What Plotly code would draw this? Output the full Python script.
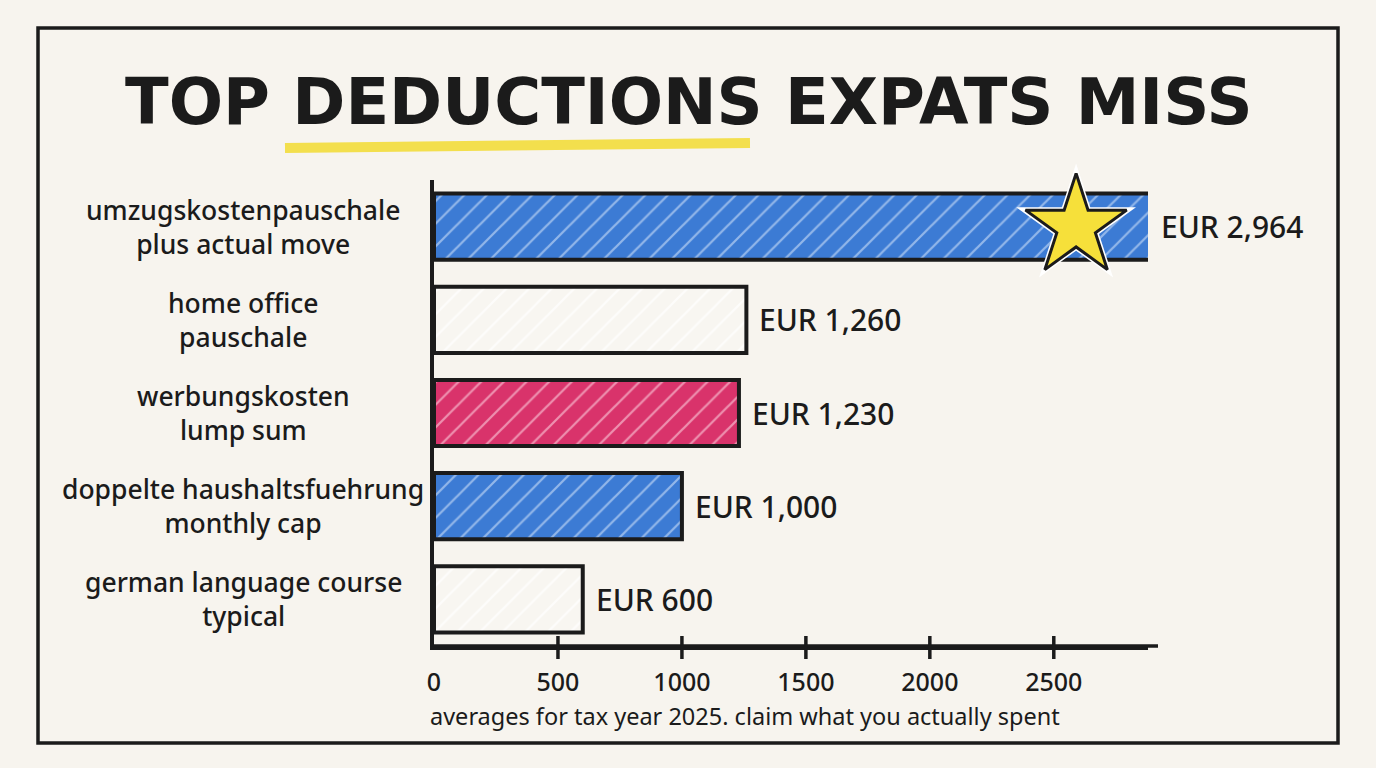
import plotly.graph_objects as go

# ---- data ----
categories = [
    "umzugskostenpauschale<br>plus actual move",
    "home office<br>pauschale",
    "werbungskosten<br>lump sum",
    "doppelte haushaltsfuehrung<br>monthly cap",
    "german language course<br>typical",
]
values = [2964, 1260, 1230, 1000, 600]
value_labels = ["EUR 2,964", "EUR 1,260", "EUR 1,230", "EUR 1,000", "EUR 600"]
tick_values = [0, 500, 1000, 1500, 2000, 2500]
title_text = "TOP DEDUCTIONS EXPATS MISS"
caption_text = "averages for tax year 2025. claim what you actually spent"

# ---- styles ----
bg_colors = ["#3c7bd4", "#f8f6f1", "#d9336b", "#3c7bd4", "#f8f6f1"]
fg_colors = ["#b7d0f2", "#ffffff", "#f6b8cc", "#b7d0f2", "#ffffff"]
INK = "#1b1b1b"
PAPER = "#f7f4ee"
FONT = "Noto Sans"
TITLE_FONT = "DejaVu Sans"

W, H = 1376, 768
L, R, T, B = 434, 1148, 180, 646  # plot area in px
XMAX = 2880
N = len(categories)

def px2x(px):
    return (px - L) / (R - L)

def py2y(py):
    return (B - py) / (B - T)

fig = go.Figure()

for c, v, bgc, fgc in zip(categories, values, bg_colors, fg_colors):
    fig.add_trace(go.Bar(
        y=[c], x=[v], orientation="h", width=0.71,
        marker=dict(
            color=bgc,
            line=dict(color=INK, width=4),
            pattern=dict(shape="/", fgcolor=fgc, fgopacity=0.7,
                         size=16, solidity=0.14, fillmode="overlay"),
        ),
        hoverinfo="skip", showlegend=False,
    ))

# star highlight on the top bar
star_x = XMAX - 290
fig.add_trace(go.Scatter(
    x=[star_x], y=[categories[0]], mode="markers",
    marker=dict(symbol="star", size=90, color="#ffffff", line=dict(width=0)),
    hoverinfo="skip", showlegend=False, cliponaxis=False,
))
fig.add_trace(go.Scatter(
    x=[star_x], y=[categories[0]], mode="markers",
    marker=dict(symbol="star", size=76, color="#f6e03a", line=dict(color=INK, width=3)),
    hoverinfo="skip", showlegend=False, cliponaxis=False,
))

annotations = []
for c, v, t in zip(categories, values, value_labels):
    annotations.append(dict(
        x=min(v, XMAX), y=c, xref="x", yref="y", text=t, showarrow=False,
        xanchor="left", xshift=11,
        font=dict(family=FONT, size=30, color=INK, weight=500),
    ))
for c in categories:
    annotations.append(dict(
        x=px2x(243), y=c, xref="paper", yref="y", text=c, showarrow=False,
        xanchor="center", align="center",
        font=dict(family=FONT, size=26.5, color=INK, weight=500),
    ))
annotations.append(dict(
    x=px2x(W / 2), y=py2y(102), xref="paper", yref="paper", text=title_text,
    showarrow=False, xanchor="center", yanchor="middle",
    font=dict(family=TITLE_FONT, size=64, color=INK, weight=700),
))
annotations.append(dict(
    x=px2x(428), y=py2y(716), xref="paper", yref="paper", text=caption_text,
    showarrow=False, xanchor="left", yanchor="middle",
    font=dict(family=FONT, size=23.5, color=INK),
))

shapes = [
    dict(type="rect", xref="paper", yref="paper",
         x0=px2x(38), x1=px2x(1338), y0=py2y(743), y1=py2y(28),
         line=dict(color=INK, width=3.5), layer="below"),
    dict(type="line", xref="paper", yref="paper",
         x0=px2x(285), x1=px2x(750), y0=py2y(148), y1=py2y(143),
         line=dict(color="#f3dd3c", width=10), opacity=0.9, layer="below"),
    dict(type="line", xref="paper", yref="paper",
         x0=0, x1=px2x(1158), y0=0, y1=0,
         line=dict(color=INK, width=3.5)),
]
# crossing tick marks
for t in tick_values[1:]:
    shapes.append(dict(type="line", xref="x", yref="paper",
                       x0=t, x1=t, y0=py2y(659), y1=py2y(636),
                       line=dict(color=INK, width=3.5)))

fig.update_layout(
    width=W, height=H,
    margin=dict(l=L, r=W - R, t=T, b=H - B, pad=0),
    paper_bgcolor=PAPER, plot_bgcolor=PAPER,
    barmode="overlay",
    annotations=annotations,
    shapes=shapes,
    xaxis=dict(
        range=[0, XMAX], tickvals=tick_values, ticktext=[str(t) for t in tick_values],
        showgrid=False, zeroline=False,
        showline=True, linecolor=INK, linewidth=3.5,
        ticks="outside", ticklen=11, tickwidth=0.01, tickcolor=PAPER,
        tickfont=dict(family=FONT, size=25, color=INK, weight=500),
        fixedrange=True,
    ),
    yaxis=dict(
        type="category", categoryorder="array", categoryarray=categories,
        range=[N - 0.5, -0.5], autorange=False,
        showticklabels=False, showgrid=False, zeroline=False,
        showline=True, linecolor=INK, linewidth=3.5, ticks="",
        fixedrange=True,
    ),
)

fig.write_html("out.html")
